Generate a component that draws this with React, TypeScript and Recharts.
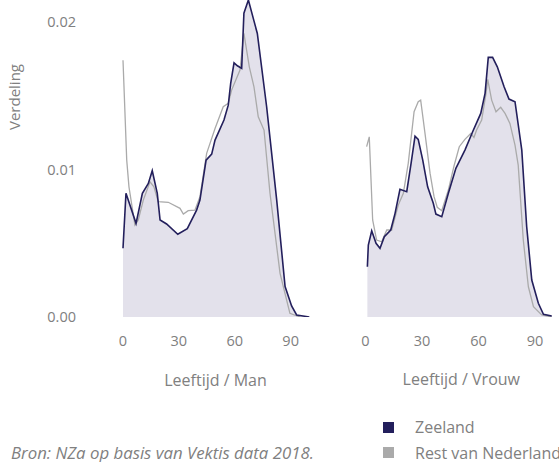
import React from "react";
import { ComposedChart, Area, Line, XAxis, YAxis } from "recharts";

// Men
const manZeelandAge = [0, 1.6, 7, 10.4, 13.6, 15.7, 18.4, 19.9, 23.4, 29.4, 34.5, 39.5, 41.3, 44.6, 47.6, 49.4, 54.2, 56.5, 57.8, 59.6, 61.4, 63.7, 64.9, 67.3, 72.1, 77.1, 82.5, 87, 90.5, 93.2, 100];
const manZeelandVal = [0.00466, 0.00839, 0.00635, 0.00839, 0.00906, 0.00992, 0.00839, 0.00658, 0.00631, 0.00561, 0.00599, 0.00725, 0.00793, 0.01064, 0.01105, 0.012, 0.01336, 0.01437, 0.01584, 0.01724, 0.01704, 0.01686, 0.0206, 0.0215, 0.01923, 0.01426, 0.00793, 0.00206, 0.00075, 0.00014, 0];
const manRestAge = [0, 2, 3.2, 6.4, 8.2, 10.9, 14.5, 16.6, 18.9, 24.3, 30.6, 32.4, 35, 38.6, 41.3, 44.9, 49.4, 53.8, 56.5, 58.3, 62.8, 64.9, 67.8, 70.3, 72.6, 75.7, 78.9, 84.3, 89.6, 95];
const manRestVal = [0.01742, 0.01064, 0.00883, 0.00624, 0.00658, 0.00793, 0.00917, 0.00883, 0.00782, 0.00778, 0.00737, 0.00698, 0.00721, 0.00725, 0.00816, 0.0111, 0.01279, 0.01426, 0.01449, 0.01539, 0.01675, 0.01923, 0.01697, 0.01561, 0.01358, 0.01268, 0.00839, 0.00296, 0.00025, 0];

// Women
const vrouwZeelandAge = [1, 1.5, 3.3, 5.6, 7.7, 10, 13.4, 15.7, 18.3, 21.9, 24.2, 26.3, 28, 30.4, 33, 36, 37.4, 40.5, 44, 48, 52.8, 56.9, 61.2, 63.5, 65.2, 67.5, 70, 73.6, 76.2, 79.4, 83, 85.6, 88.3, 91.8, 94.5, 98.9];
const vrouwZeelandVal = [0.00341, 0.00488, 0.00585, 0.005, 0.00466, 0.00544, 0.0059, 0.00703, 0.00866, 0.0085, 0.01042, 0.01227, 0.01205, 0.01064, 0.00883, 0.00771, 0.00698, 0.0068, 0.00839, 0.01008, 0.01132, 0.01256, 0.01381, 0.01517, 0.01761, 0.01761, 0.01697, 0.01561, 0.01478, 0.0146, 0.01132, 0.00612, 0.00251, 0.00093, 0.00018, 0.00007];
const vrouwRestAge = [0.6, 2, 3.8, 5.9, 8.6, 11.3, 13.9, 17.4, 20.1, 22.7, 25.8, 28, 29.3, 31.6, 34.3, 36.4, 38.1, 40.5, 44, 47, 49.8, 52.8, 55.9, 57.6, 59, 61.7, 64, 64.9, 67, 69.3, 71.8, 74.1, 76.7, 79.4, 81.1, 83.8, 86.5, 89.2, 93.6, 98.9];
const vrouwRestVal = [0.01155, 0.01222, 0.00658, 0.00522, 0.0051, 0.0059, 0.0059, 0.00759, 0.00839, 0.01042, 0.01392, 0.0146, 0.01471, 0.01245, 0.00974, 0.00816, 0.00744, 0.00721, 0.00861, 0.01024, 0.01155, 0.01205, 0.01245, 0.01218, 0.01268, 0.01336, 0.01517, 0.01611, 0.01471, 0.01392, 0.01422, 0.01381, 0.01313, 0.01166, 0.0103, 0.00522, 0.00205, 0.0007, 0.00014, 0];

const xTicks = [0, 30, 60, 90];
const yTicks = [0, 0.01, 0.02];
const xLabels = ["Leeftijd / Man", "Leeftijd / Vrouw"];
const legendNames = ["Zeeland", "Rest van Nederland"];
const source = "Bron: NZa op basis van Vektis data 2018.";

const zip = (a: number[], v: number[]) => a.map((age, i) => ({ age, v: v[i] }));

const DARK = "#231f5c";
const GREY = "#aaaaaa";
const FILL = "#e3e1eb";
const TEXT = "#808080";
const FONT = "'Open Sans', sans-serif";

const tickStyle = { fontSize: 14.5, fill: TEXT, fontFamily: FONT };

function Panel({ zeeland, rest, showY, width, marginLeft, marginRight }: any) {
  return (
    <ComposedChart
      width={width}
      height={360}
      margin={{ top: 0, right: marginRight, bottom: 0, left: marginLeft }}
    >
      <XAxis
        type="number"
        dataKey="age"
        domain={[0, 100]}
        ticks={xTicks}
        axisLine={false}
        tickLine={false}
        tickMargin={13}
        height={43}
        tick={tickStyle}
        allowDuplicatedCategory={false}
      />
      <YAxis
        type="number"
        domain={[0, 0.0215]}
        allowDataOverflow
        ticks={yTicks}
        hide={!showY}
        width={showY ? 123 : 0}
        axisLine={false}
        tickLine={false}
        tickMargin={41}
        tick={tickStyle}
        tickFormatter={(v: number) => v.toFixed(2)}
      />
      <Area
        data={zeeland}
        dataKey="v"
        type="linear"
        stroke="none"
        fill={FILL}
        fillOpacity={1}
        isAnimationActive={false}
        dot={false}
        activeDot={false}
      />
      <Line
        data={rest}
        dataKey="v"
        type="linear"
        stroke={GREY}
        strokeWidth={1.3}
        dot={false}
        activeDot={false}
        isAnimationActive={false}
      />
      <Line
        data={zeeland}
        dataKey="v"
        type="linear"
        stroke={DARK}
        strokeWidth={1.6}
        dot={false}
        activeDot={false}
        isAnimationActive={false}
      />
    </ComposedChart>
  );
}

export default function App() {
  const txt: React.CSSProperties = {
    position: "absolute",
    fontFamily: FONT,
    fontSize: 16,
    color: TEXT,
    whiteSpace: "nowrap",
    lineHeight: 1,
  };
  return (
    <div
      style={{
        position: "absolute",
        left: 0,
        top: 0,
        width: 559,
        height: 462,
        overflow: "hidden",
        background: "#fff",
        fontFamily: FONT,
      }}
    >
      <div style={{ position: "absolute", left: 0, top: 0 }}>
        <Panel
          zeeland={zip(manZeelandAge, manZeelandVal)}
          rest={zip(manRestAge, manRestVal)}
          showY
          width={320}
          marginLeft={0}
          marginRight={10.7}
        />
      </div>
      <div style={{ position: "absolute", left: 330, top: 0 }}>
        <Panel
          zeeland={zip(vrouwZeelandAge, vrouwZeelandVal)}
          rest={zip(vrouwRestAge, vrouwRestVal)}
          showY={false}
          width={229}
          marginLeft={35.5}
          marginRight={5.2}
        />
      </div>
      <div
        style={{
          ...txt,
          fontSize: 15,
          left: 14,
          top: 97,
          transform: "translate(-50%, -50%) rotate(-90deg)",
        }}
      >
        Verdeling
      </div>
      <div style={{ ...txt, left: 215.5, top: 380, transform: "translate(-50%, -50%)" }}>{xLabels[0]}</div>
      <div style={{ ...txt, left: 461.3, top: 379, transform: "translate(-50%, -50%)" }}>{xLabels[1]}</div>
      <div style={{ ...txt, fontSize: 16.8, left: 11, top: 453, transform: "translateY(-50%)", fontStyle: "italic" }}>{source}</div>
      <div style={{ position: "absolute", left: 383, top: 422, width: 11, height: 11, background: DARK }} />
      <div style={{ ...txt, left: 415, top: 427, transform: "translateY(-50%)" }}>{legendNames[0]}</div>
      <div style={{ position: "absolute", left: 383, top: 447, width: 11, height: 11, background: GREY }} />
      <div style={{ ...txt, left: 415, top: 452.5, transform: "translateY(-50%)" }}>{legendNames[1]}</div>
    </div>
  );
}
